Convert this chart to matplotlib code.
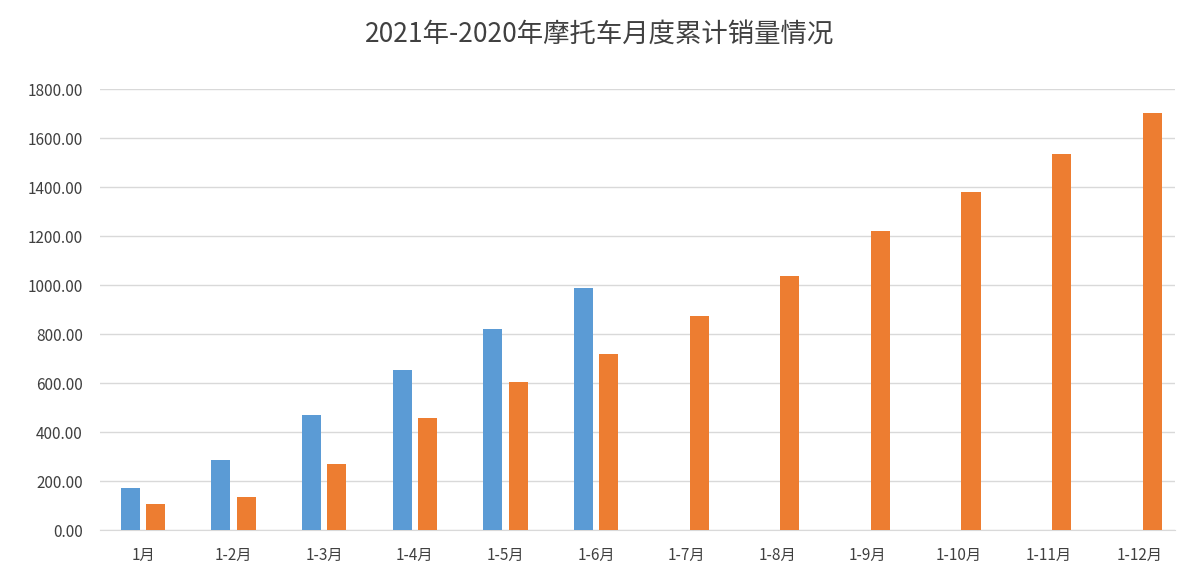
import matplotlib.pyplot as plt
import numpy as np

plt.rcParams['font.family'] = ['Noto Sans CJK SC', 'Noto Sans CJK JP', 'Noto Sans CJK TC',
                               'Noto Sans CJK KR', 'DejaVu Sans']

months = ['1月', '1-2月', '1-3月', '1-4月', '1-5月', '1-6月',
          '1-7月', '1-8月', '1-9月', '1-10月', '1-11月', '1-12月']
sales_2021 = [175, 288, 472, 655, 822, 990]
sales_2020 = [108, 135, 270, 460, 607, 720, 877, 1040, 1222, 1380, 1537, 1705]

fig = plt.figure(figsize=(12, 5.88), dpi=100)
ax = fig.add_axes([0.083, 0.098, 0.896, 0.75])

x = np.arange(len(months))
w = 0.21
ax.bar(x[:len(sales_2021)] - 0.14, sales_2021, w, color='#5b9bd5', zorder=3)
ax.bar(x + 0.14, sales_2020, w, color='#ed7d31', zorder=3)

ax.set_ylim(0, 1800)
ax.set_yticks(range(0, 1801, 200))
ax.set_yticklabels(['%.2f' % v for v in range(0, 1801, 200)], fontsize=11, color='#404040')
ax.set_xticks(x)
ax.set_xticklabels(months, fontsize=11, color='#404040')
ax.set_xlim(-0.48, 11.39)
ax.grid(axis='y', color='#d9d9d9', lw=1, zorder=0)
for s in ['top', 'right', 'left']:
    ax.spines[s].set_visible(False)
ax.spines['bottom'].set_color('#d9d9d9')
ax.tick_params(length=0, pad=12)

fig.suptitle('2021年-2020年摩托车月度累计销量情况', fontsize=19, color='#404040', y=0.965)
fig.savefig('out.png')
